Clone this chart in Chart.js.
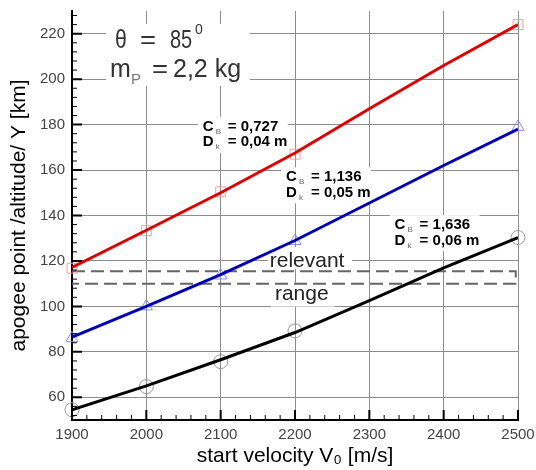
<!DOCTYPE html>
<html>
<head>
<meta charset="utf-8">
<script src="https://cdn.jsdelivr.net/npm/chart.js@4.4.0/dist/chart.umd.min.js"></script>
<style>
  html, body { margin: 0; padding: 0; background: #fff; }
  #wrap { width: 536px; height: 470px; }
</style>
</head>
<body>
<div id="wrap"><canvas id="apogeeChart"></canvas></div>
<script>
// start velocity [m/s] and apogee [km] for the three rockets
const velocities = [1900, 2000, 2100, 2200, 2300, 2400, 2500];
const apogeeSmall = [117.2, 133.5, 150, 167.5, 187, 206, 224];   // C_B 0,727
const apogeeMedium = [86.5, 100, 114, 129, 145.5, 162, 178];     // C_B 1,136
const apogeeLarge = [54.5, 65, 76.5, 88.5, 102.5, 117, 130.3];   // C_B 1,636

// computed points (markers)
const markerVelocities = [1900, 2000, 2100, 2200, 2500];
const markersSmall = [116.8, 133.3, 150.4, 167, 224];
const markersMedium = [86, 100, 113.6, 128.8, 179];
const markersLarge = [54.5, 64.7, 75.7, 89.2, 130.3];

// relevant range box
const rangeVelocities = [1900, 2497, 2497, 1900];
const rangeLevels = [115.5, 115.5, 110, 110];

const xTicks = [1900, 2000, 2100, 2200, 2300, 2400, 2500];
const yTicks = [60, 80, 100, 120, 140, 160, 180, 200, 220];

const curveLabels = [
  { cb: '0,727', dk: '0,04 m', v: 2076, alt: 177.3 },
  { cb: '1,136', dk: '0,05 m', v: 2188, alt: 155 },
  { cb: '1,636', dk: '0,06 m', v: 2334, alt: 134 }
];

const pts = (xs, ys) => xs.map((x, i) => ({ x: x, y: ys[i] }));
const FONT = '"Liberation Sans", Arial, sans-serif';

function squeezed(ctx, text, x, y, sx) {
  ctx.save();
  ctx.translate(x, y);
  ctx.scale(sx, 1);
  ctx.fillText(text, 0, 0);
  ctx.restore();
}

function subText(ctx, x, y, main, sub, rest) {
  ctx.font = 'bold 15px ' + FONT;
  ctx.fillStyle = '#000';
  ctx.fillText(main, x, y);
  ctx.font = '8px ' + FONT;
  ctx.fillStyle = '#666';
  ctx.fillText(sub, x + 13, y + 3);
  ctx.font = 'bold 15px ' + FONT;
  ctx.fillStyle = '#000';
  ctx.fillText(rest, x + 25, y);
}

const annotations = {
  id: 'annotations',
  beforeDatasetsDraw(chart) {
    const { ctx, scales: { x, y } } = chart;
    ctx.save();
    ctx.fillStyle = '#fff';
    // white backgrounds behind the texts
    ctx.fillRect(106, 24, 144, 62);
    curveLabels.forEach(l => {
      const px = x.getPixelForValue(l.v), py = y.getPixelForValue(l.alt);
      ctx.fillRect(px - 5, py - 14, 90, 36);
    });
    const rx = x.getPixelForValue(2173);
    ctx.fillRect(rx - 7, y.getPixelForValue(120) - 14, 84, 22);
    ctx.fillRect(rx - 4, y.getPixelForValue(103) - 17, 64, 24);
    ctx.restore();
  },
  afterDraw(chart) {
    const { ctx, scales: { x, y } } = chart;
    ctx.save();
    ctx.textBaseline = 'alphabetic';
    ctx.textAlign = 'left';

    // theta / mass block
    ctx.fillStyle = '#333';
    ctx.font = '25px ' + FONT;
    squeezed(ctx, '\u03b8', 115, 47.5, 0.85);
    squeezed(ctx, '=', 140, 47.5, 1.1);
    squeezed(ctx, '85', 170, 47.5, 0.8);
    ctx.font = '14px ' + FONT;
    ctx.fillText('0', 195, 34);
    ctx.font = '25px ' + FONT;
    ctx.fillText('m', 110, 77);
    squeezed(ctx, '=', 152, 77, 1.1);
    ctx.fillText('2,2 kg', 173, 77);
    ctx.font = '15px ' + FONT;
    ctx.fillStyle = '#777';
    ctx.fillText('P', 131, 84);

    // curve labels
    curveLabels.forEach(l => {
      const px = x.getPixelForValue(l.v), py = y.getPixelForValue(l.alt);
      subText(ctx, px, py, 'C', 'B', '= ' + l.cb);
      subText(ctx, px, py + 15.5, 'D', 'k', '= ' + l.dk);
    });

    // relevant range text
    ctx.fillStyle = '#222';
    ctx.font = '21px ' + FONT;
    ctx.fillText('relevant', x.getPixelForValue(2166), y.getPixelForValue(117.2));
    ctx.fillText('range', x.getPixelForValue(2173), y.getPixelForValue(102.9));

    // inward tick marks
    const a = chart.chartArea;
    ctx.strokeStyle = '#000';
    [[2, true], [1, false]].forEach(([lw, major]) => {
      ctx.lineWidth = lw;
      ctx.beginPath();
      for (let v = 1900; v <= 2500; v += 20) {
        if ((v % 100 === 0) !== major) continue;
        const px = x.getPixelForValue(v);
        ctx.moveTo(px, a.bottom);
        ctx.lineTo(px, a.bottom - (major ? 10 : 5));
      }
      for (let val = 52; val <= 228; val += 4) {
        if ((val % 20 === 0) !== major) continue;
        const py = y.getPixelForValue(val);
        ctx.moveTo(a.left, py);
        ctx.lineTo(a.left + (major ? 10 : 5), py);
      }
      ctx.stroke();
    });
    ctx.restore();
  }
};

new Chart(document.getElementById('apogeeChart'), {
  type: 'scatter',
  data: {
    datasets: [
      { data: pts(velocities, apogeeSmall), showLine: true, borderColor: '#e00000', borderWidth: 3, pointRadius: 0 },
      { data: pts(velocities, apogeeMedium), showLine: true, borderColor: '#0000b4', borderWidth: 3, pointRadius: 0 },
      { data: pts(velocities, apogeeLarge), showLine: true, borderColor: '#000', borderWidth: 3, pointRadius: 0 },
      { data: pts(markerVelocities, markersSmall), clip: false, pointStyle: 'rect', pointRadius: 7, borderColor: '#ff9a9a', backgroundColor: 'transparent', borderWidth: 1 },
      { data: pts(markerVelocities, markersMedium), clip: false, pointStyle: 'triangle', pointRadius: 7, borderColor: '#8a8aff', backgroundColor: 'transparent', borderWidth: 1 },
      { data: pts(markerVelocities, markersLarge), clip: false, pointStyle: 'circle', pointRadius: 7, borderColor: '#999', backgroundColor: 'transparent', borderWidth: 1 },
      { data: pts(rangeVelocities, rangeLevels), showLine: true, borderColor: '#666', borderWidth: 2, borderDash: [13, 6], borderJoinStyle: 'round', pointRadius: 0 }
    ]
  },
  options: {
    responsive: true,
    maintainAspectRatio: false,
    animation: false,
    layout: { padding: { top: 11, right: 18, left: 0, bottom: 0 } },
    plugins: { legend: { display: false }, tooltip: { enabled: false } },
    scales: {
      x: {
        type: 'linear',
        min: 1900,
        max: 2500,
        afterBuildTicks: axis => { axis.ticks = xTicks.map(v => ({ value: v })); },
        afterFit: scale => { scale.height = 50; scale.paddingLeft = 0; scale.paddingRight = 0; },
        grid: { color: '#8c8c8c', lineWidth: 1, drawTicks: false },
        border: { color: '#000', width: 2 },
        ticks: { color: '#444', font: { family: FONT, size: 15 }, padding: 6, maxRotation: 0, callback: v => String(v) },
        title: { display: true, text: 'start velocity V\u2080 [m/s]', color: '#000', font: { family: FONT, size: 21 }, padding: { top: 0, bottom: 1 } }
      },
      y: {
        type: 'linear',
        min: 50,
        max: 230,
        afterBuildTicks: axis => { axis.ticks = yTicks.map(v => ({ value: v })); },
        afterFit: scale => { scale.width = 72; scale.paddingTop = 0; scale.paddingBottom = 0; },
        grid: { color: '#8c8c8c', lineWidth: 1, drawTicks: false },
        border: { color: '#000', width: 2 },
        ticks: { color: '#444', font: { family: FONT, size: 15 }, padding: 7, callback: v => String(v) },
        title: { display: true, text: 'apogee point /altitude/ Y [km]', color: '#000', font: { family: FONT, size: 21 }, padding: { top: 7, bottom: 0 } }
      }
    }
  },
  plugins: [annotations]
});
</script>
</body>
</html>
